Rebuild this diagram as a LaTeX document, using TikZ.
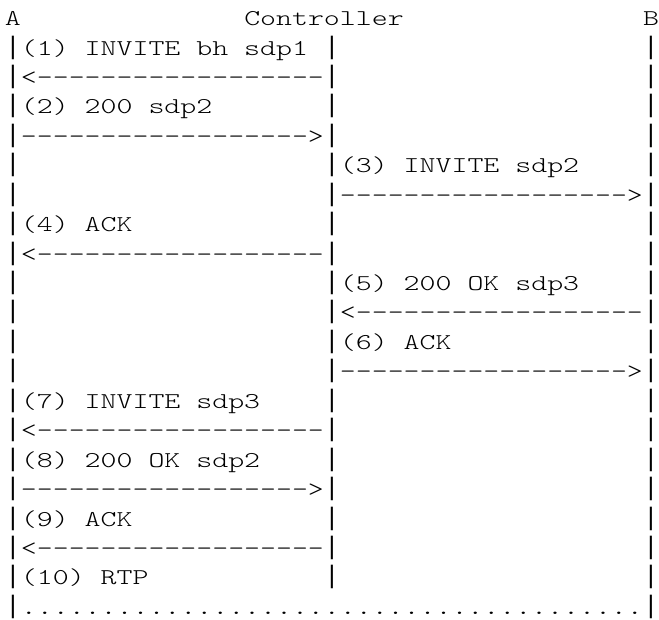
\documentclass[tikz,border=0pt]{standalone}
\usepackage{fontspec}
\setmonofont[FakeStretch=1.344]{lmmonolt10-regular.otf}
\newfontfamily\barfont{Liberation Mono}
\usepackage{tikz}
\tikzstyle{glyph}=[inner sep=0pt,outer sep=0pt,anchor=base west,
  font=\ttfamily\fontsize{22.6}{29.44}\selectfont]
\tikzstyle{lifeline}=[inner sep=0pt,outer sep=0pt,anchor=base,yshift=1pt,
  font=\barfont\fontsize{25.3}{29.44}\selectfont]

\begin{document}
\begin{tikzpicture}[x=15.95pt,y=-29.44pt]
  \useasboundingbox (0pt,0pt) rectangle (659pt,-619pt);
  \begin{scope}[shift={(5pt,-25.56pt)}]
  % header
  \node[glyph] (a) at (0,0) {A};
  \node[glyph] (ctrl) at (15,0) {Controller};
  \node[glyph] (b) at (40,0) {B};
  % lifelines
  \foreach \r in {1,...,20}
    \foreach \c in {0,40}
      \node[lifeline] (p\r c\c) at (\c+0.5,\r) {|};
  \foreach \r in {1,...,19}
    \node[lifeline] (p\r c20) at (20.5,\r) {|};
  % messages
  \foreach \r/\c/\txt in {{1/1/(1) INVITE bh sdp1},
                          {2/1/<------------------},
                          {3/1/(2) 200 sdp2},
                          {4/1/------------------>},
                          {5/21/(3) INVITE sdp2},
                          {6/21/------------------>},
                          {7/1/(4) ACK},
                          {8/1/<------------------},
                          {9/21/(5) 200 OK sdp3},
                          {10/21/<------------------},
                          {11/21/(6) ACK},
                          {12/21/------------------>},
                          {13/1/(7) INVITE sdp3},
                          {14/1/<------------------},
                          {15/1/(8) 200 OK sdp2},
                          {16/1/------------------>},
                          {17/1/(9) ACK},
                          {18/1/<------------------},
                          {19/1/(10) RTP}}
    \node[glyph] (m\r) at (\c,\r) {\txt};
  % RTP stream
  \node[glyph] (m20) at (1,20) {.......................................};
  \end{scope}
\end{tikzpicture}
\end{document}
